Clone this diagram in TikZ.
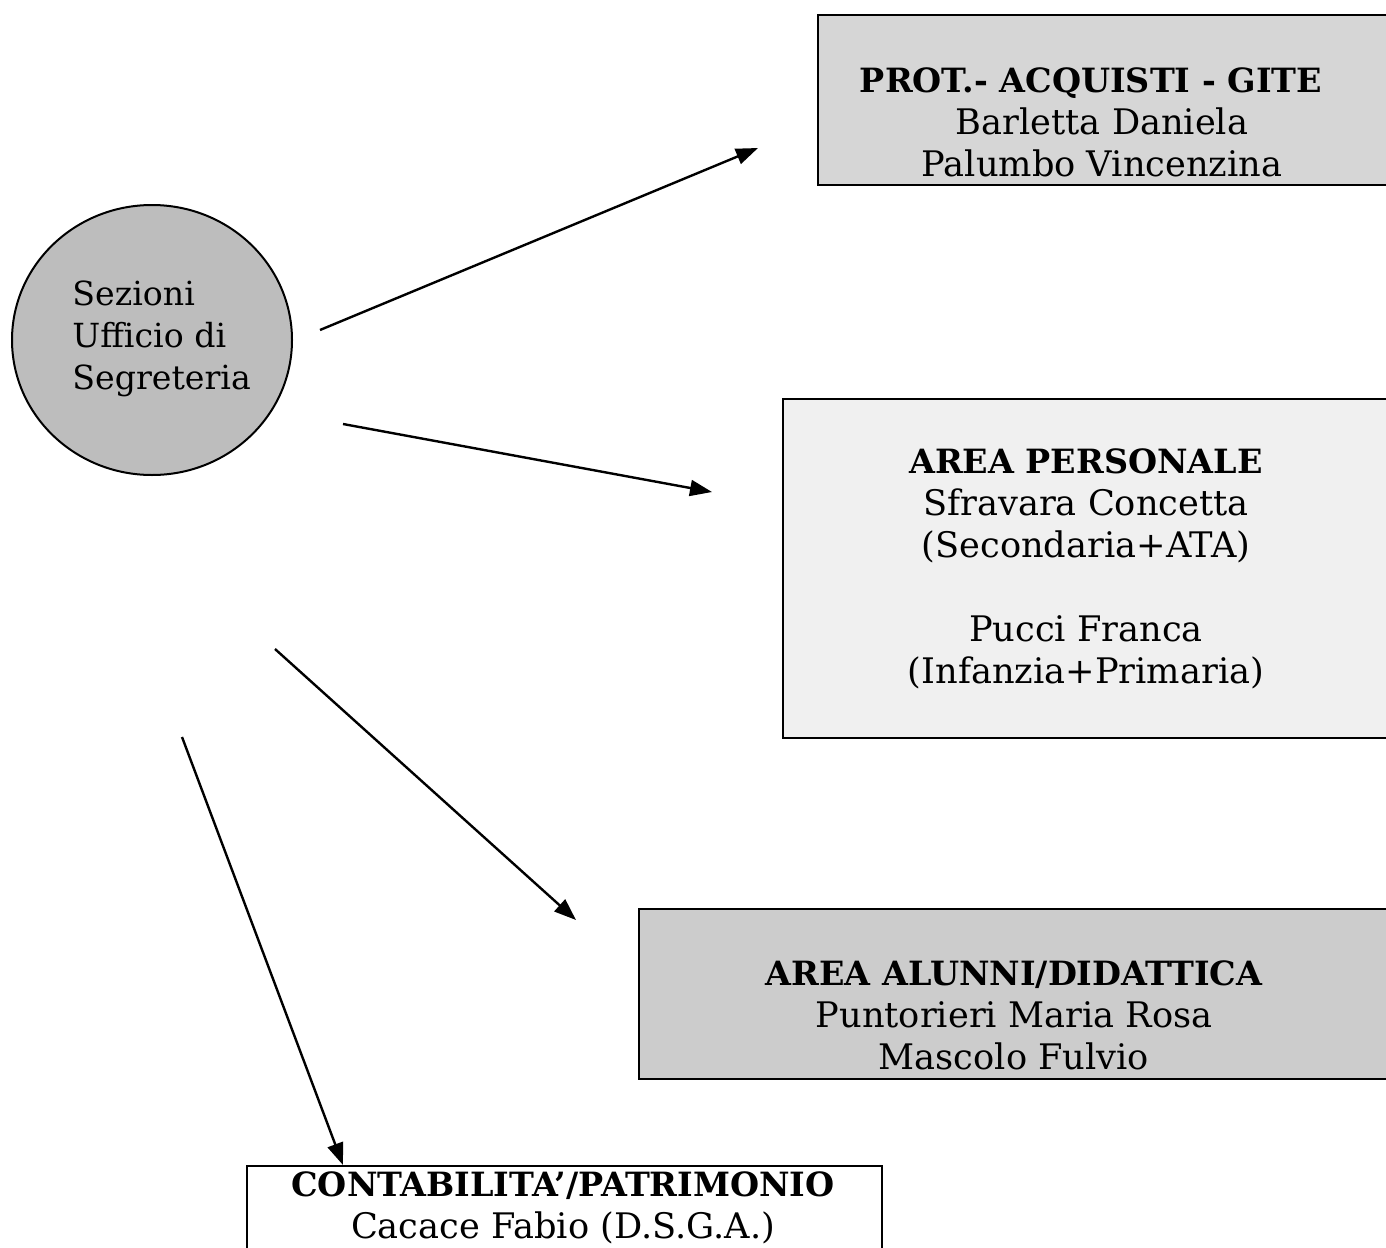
\documentclass[tikz,border=0pt]{standalone}
\usepackage{fontspec}
\setmainfont{DejaVu Serif}
\usetikzlibrary{arrows.meta,shapes.geometric}
\definecolor{circfill}{gray}{0.74}
\definecolor{topfill}{gray}{0.84}
\definecolor{persfill}{gray}{0.94}
\definecolor{alunfill}{gray}{0.80}
\newcommand{\hd}[1]{{\fontsize{16.7}{21}\selectfont\bfseries #1}}
\tikzset{
  box/.style={draw=black, line width=1pt, anchor=north west, inner sep=0pt},
  txt/.style={align=center, font=\fontsize{17.6}{21}\selectfont, inner sep=0pt},
  conn/.style={line width=1.2pt, -{Triangle[length=11pt,width=8pt]}}
}
\begin{document}
\begin{tikzpicture}[x=0.5pt,y=-0.5pt]
\useasboundingbox (0,0) rectangle (1386,1247);
\clip (0,0) rectangle (1386,1247);
\fill[white] (0,0) rectangle (1386,1247);
% central ellipse
\node[ellipse, draw=black, line width=1pt, fill=circfill, minimum width=140pt, minimum height=135pt, inner sep=0pt] (sez) at (152,340) {};
\node[align=left, anchor=north west, font=\fontsize{16.6}{21}\selectfont, inner sep=0pt] (sezt) at (72,280) {Sezioni\\Ufficio di\\Segreteria};
% boxes
\node[box, fill=topfill, minimum width=310pt, minimum height=85pt] (b1) at (817,14) {};
\node[txt] (t1) at (1102,122) {\hd{PROT.- ACQUISTI - GITE}\hspace*{11pt}\\Barletta Daniela\\Palumbo Vincenzina};
\node[box, fill=persfill, minimum width=320pt, minimum height=169.5pt] (b2) at (782,398) {};
\node[txt] (t2) at (1086,569) {\hd{AREA PERSONALE}\\Sfravara Concetta\\(Secondaria+ATA)\\[21pt]Pucci Franca\\(Infanzia+Primaria)};
\node[box, fill=alunfill, minimum width=400pt, minimum height=85pt] (b3) at (638,908) {};
\node[txt] (t3) at (1014,1015) {\hd{AREA ALUNNI/DIDATTICA}\\Puntorieri Maria Rosa\\Mascolo Fulvio};
\node[box, fill=white, minimum width=317.5pt, minimum height=60pt] (b4) at (246,1165) {};
\node[txt] (t4) at (563,1208) {\hd{CONTABILITA’/PATRIMONIO}\\Cacace Fabio (D.S.G.A.)};
% connectors
\coordinate (a1s) at (320,330); \coordinate (a1e) at (758,148);
\coordinate (a2s) at (343,424); \coordinate (a2e) at (712,492);
\coordinate (a3s) at (275,649); \coordinate (a3e) at (576,920);
\coordinate (a4s) at (182,737); \coordinate (a4e) at (343,1165);
\draw[conn] (a1s) -- (a1e);
\draw[conn] (a2s) -- (a2e);
\draw[conn] (a3s) -- (a3e);
\draw[conn] (a4s) -- (a4e);
\end{tikzpicture}
\end{document}
